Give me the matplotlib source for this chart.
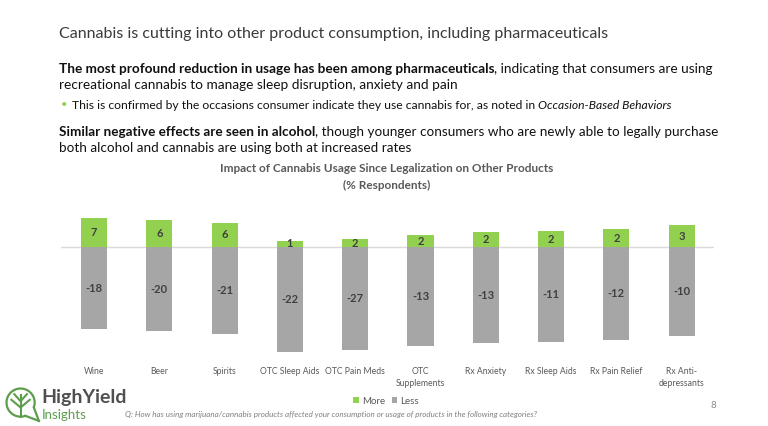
import matplotlib.pyplot as plt
import matplotlib.patches as mpatches
import numpy as np

plt.rcParams['font.family'] = ['Lato', 'DejaVu Sans']

# data (% respondents) - bars are drawn as a 100% stack of more/less
categories = ['Wine', 'Beer', 'Spirits', 'OTC Sleep Aids', 'OTC Pain Meds',
              'OTC\nSupplements', 'Rx Anxiety', 'Rx Sleep Aids', 'Rx Pain Relief',
              'Rx Anti-\ndepressants']
more = [6.6, 6.4, 6.0, 1.4, 2.2, 1.7, 2.1, 1.8, 2.3, 2.6]
less = [-18.4, -19.9, -21.0, -21.8, -27.0, -13.3, -13.1, -10.7, -11.9, -10.4]

green = '#92d050'
grey = '#a6a6a6'
txt_grey = '#595959'
logo_green = '#5c9e4c'

fig = plt.figure(figsize=(7.68, 4.26), dpi=100)
W, H = 768.0, 426.0


def fx(px):
    return px / W


def fy(py):
    return 1 - py / H


ax = fig.add_axes([fx(61.3), fy(355), fx(714.4) - fx(61.3), fy(205) - fy(355)])

more_a = np.array(more)
less_a = np.array(less)
total = more_a - less_a
more_share = more_a / total
less_share = less_a / total
x = np.arange(len(categories))

ax.axhline(0, color='#d9d9d9', lw=1, zorder=0)
ax.bar(x, more_share, 0.4, color=green, label='More', zorder=2)
ax.bar(x, less_share, 0.4, color=grey, label='Less', zorder=2)
for i in x:
    ax.text(i, more_share[i] / 2, f'{more_a[i]:.0f}', ha='center', va='center',
            fontsize=8, fontweight='bold', color='#404040', zorder=3)
    ax.text(i, less_share[i] / 2, f'{less_a[i]:.0f}', ha='center', va='center',
            fontsize=8, fontweight='bold', color='#404040', zorder=3)

ax.set_xlim(-0.5, 9.5)
ax.set_ylim(-0.97, 0.381)
ax.set_xticks(x, categories, fontsize=6.2, color=txt_grey, linespacing=1.5)
ax.tick_params(axis='x', length=0, pad=8.5)
ax.set_yticks([])
for s in ax.spines.values():
    s.set_visible(False)
ax.patch.set_alpha(0)

ax.legend(loc='center', bbox_to_anchor=(fx(386), fy(401)), bbox_transform=fig.transFigure,
          ncol=2, frameon=False, fontsize=7, handlelength=0.6, handleheight=0.6,
          handletextpad=0.3, columnspacing=0.7, labelcolor=txt_grey)

# chart title
fig.text(fx(387), fy(169), 'Impact of Cannabis Usage Since Legalization on Other Products',
         ha='center', va='center', fontsize=8.5, fontweight='bold', color=txt_grey)
fig.text(fx(387), fy(185), '(% Respondents)', ha='center', va='center',
         fontsize=8.5, fontweight='bold', color=txt_grey)

# slide title and text
fig.text(fx(59), fy(34), 'Cannabis is cutting into other product consumption, including pharmaceuticals',
         ha='left', va='center', fontsize=11.5, color='#3a3a3a')


def line(px, py, parts, size):
    prev = None
    for s, style in parts:
        kw = dict(fontsize=size, color='#111111', va='bottom', ha='left')
        if style == 'b':
            kw['fontweight'] = 'bold'
        if style == 'i':
            kw['fontstyle'] = 'italic'
        if prev is None:
            prev = fig.text(fx(px), fy(py), s, **kw)
        else:
            prev = ax.annotate(s, xy=(1, 0), xycoords=prev, annotation_clip=False, **kw)


line(59, 75, [('The most profound reduction in usage has been among pharmaceuticals', 'b'),
              (', indicating that consumers are using', 'r')], 9.8)
line(59, 91, [('recreational cannabis to manage sleep disruption, anxiety and pain', 'r')], 9.8)
fig.text(fx(61), fy(105), '•', ha='left', va='center', fontsize=8, color=green)
line(72, 111, [('This is confirmed by the occasions consumer indicate they use cannabis for, as noted in ', 'r'),
               ('Occasion-Based Behaviors', 'i')], 8.7)
line(59, 138, [('Similar negative effects are seen in alcohol', 'b'),
               (', though younger consumers who are newly able to legally purchase', 'r')], 9.7)
line(59, 154, [('both alcohol and cannabis are using both at increased rates', 'r')], 9.7)

# footnote and page number
fig.text(fx(125), fy(415), 'Q: How has using marijuana/cannabis products affected your consumption or usage of products in the following categories?',
         ha='left', va='center', fontsize=5.8, fontstyle='italic', color='#7f7f7f')
fig.text(fx(713), fy(405), '8', ha='center', va='center', fontsize=7, color='#8c8c8c')

# logo: circle with a tail and a small tree inside
lax = fig.add_axes([fx(3), fy(423), fx(41) - fx(3), fy(385) - fy(423)])
lax.set_xlim(-1.25, 1.45)
lax.set_ylim(-1.45, 1.25)
lax.axis('off')
lax.add_patch(mpatches.Arc((0, 0), 2.0, 2.0, theta1=-20, theta2=290, ec=logo_green, lw=1.6))
lax.plot([np.cos(np.radians(-20)), 1.3], [np.sin(np.radians(-20)), -1.3], color=logo_green, lw=1.6)
lax.plot([np.cos(np.radians(-70)), 1.3], [np.sin(np.radians(-70)), -1.3], color=logo_green, lw=1.6)
lax.plot([0, 0], [-1.0, 0.55], color=logo_green, lw=1.5)
lax.plot([-0.45, 0, 0.45], [0.6, 0.1, 0.6], color=logo_green, lw=1.5)
lax.plot([-0.65, 0, 0.65], [0.2, -0.35, 0.2], color=logo_green, lw=1.5)
fig.text(fx(41), fy(397), 'HighYield', ha='left', va='center', fontsize=14,
         fontweight='bold', color='#505050')
fig.text(fx(42), fy(415), 'Insights', ha='left', va='center', fontsize=9.5, color=logo_green)

fig.savefig('out.png', dpi=100)
